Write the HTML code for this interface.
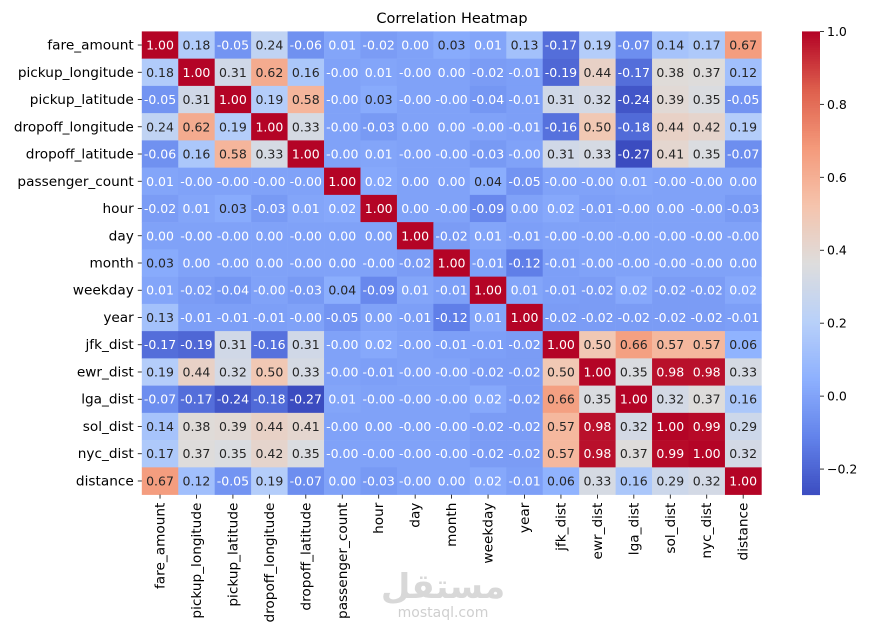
<!DOCTYPE html>
<html><head><meta charset="utf-8"><style>
html,body{margin:0;padding:0;background:#fff;}
svg{display:block;font-family:"DejaVu Sans","Liberation Sans",sans-serif;}
</style></head><body>
<svg id="chart" width="877" height="636" viewBox="0 0 877 636" xmlns="http://www.w3.org/2000/svg">
<text x="452" y="23" font-size="14.5" text-anchor="middle" fill="#000">Correlation Heatmap</text>
<g id="cells"></g>
<g id="ylab"></g>
<g id="xlab"></g>
<g id="cbar"></g>
<g fill="#d8d8d8" text-anchor="middle">
<text x="443" y="598" font-size="34" font-weight="bold" font-family="'Noto Sans CJK SC','DejaVu Sans',sans-serif">مستقل</text>
<text x="443" y="617" font-size="14" fill="#cfcfcf">mostaql.com</text>
</g>
</svg>
<script>
const labels = ["fare_amount","pickup_longitude","pickup_latitude","dropoff_longitude","dropoff_latitude","passenger_count","hour","day","month","weekday","year","jfk_dist","ewr_dist","lga_dist","sol_dist","nyc_dist","distance"];
const cellText = [
"1.00 0.18 -0.05 0.24 -0.06 0.01 -0.02 0.00 0.03 0.01 0.13 -0.17 0.19 -0.07 0.14 0.17 0.67",
"0.18 1.00 0.31 0.62 0.16 -0.00 0.01 -0.00 0.00 -0.02 -0.01 -0.19 0.44 -0.17 0.38 0.37 0.12",
"-0.05 0.31 1.00 0.19 0.58 -0.00 0.03 -0.00 -0.00 -0.04 -0.01 0.31 0.32 -0.24 0.39 0.35 -0.05",
"0.24 0.62 0.19 1.00 0.33 -0.00 -0.03 0.00 0.00 -0.00 -0.01 -0.16 0.50 -0.18 0.44 0.42 0.19",
"-0.06 0.16 0.58 0.33 1.00 -0.00 0.01 -0.00 -0.00 -0.03 -0.00 0.31 0.33 -0.27 0.41 0.35 -0.07",
"0.01 -0.00 -0.00 -0.00 -0.00 1.00 0.02 0.00 0.00 0.04 -0.05 -0.00 -0.00 0.01 -0.00 -0.00 0.00",
"-0.02 0.01 0.03 -0.03 0.01 0.02 1.00 0.00 -0.00 -0.09 0.00 0.02 -0.01 -0.00 0.00 -0.00 -0.03",
"0.00 -0.00 -0.00 0.00 -0.00 0.00 0.00 1.00 -0.02 0.01 -0.01 -0.00 -0.00 -0.00 -0.00 -0.00 -0.00",
"0.03 0.00 -0.00 0.00 -0.00 0.00 -0.00 -0.02 1.00 -0.01 -0.12 -0.01 -0.00 -0.00 -0.00 -0.00 0.00",
"0.01 -0.02 -0.04 -0.00 -0.03 0.04 -0.09 0.01 -0.01 1.00 0.01 -0.01 -0.02 0.02 -0.02 -0.02 0.02",
"0.13 -0.01 -0.01 -0.01 -0.00 -0.05 0.00 -0.01 -0.12 0.01 1.00 -0.02 -0.02 -0.02 -0.02 -0.02 -0.01",
"-0.17 -0.19 0.31 -0.16 0.31 -0.00 0.02 -0.00 -0.01 -0.01 -0.02 1.00 0.50 0.66 0.57 0.57 0.06",
"0.19 0.44 0.32 0.50 0.33 -0.00 -0.01 -0.00 -0.00 -0.02 -0.02 0.50 1.00 0.35 0.98 0.98 0.33",
"-0.07 -0.17 -0.24 -0.18 -0.27 0.01 -0.00 -0.00 -0.00 0.02 -0.02 0.66 0.35 1.00 0.32 0.37 0.16",
"0.14 0.38 0.39 0.44 0.41 -0.00 0.00 -0.00 -0.00 -0.02 -0.02 0.57 0.98 0.32 1.00 0.99 0.29",
"0.17 0.37 0.35 0.42 0.35 -0.00 -0.00 -0.00 -0.00 -0.02 -0.02 0.57 0.98 0.37 0.99 1.00 0.32",
"0.67 0.12 -0.05 0.19 -0.07 0.00 -0.03 -0.00 0.00 0.02 -0.01 0.06 0.33 0.16 0.29 0.32 1.00"
];
const cbarTicks = [1.0, 0.8, 0.6, 0.4, 0.2, 0.0, -0.2];

const NS = "http://www.w3.org/2000/svg";
const strs = cellText.map(r => r.split(" "));
const values = strs.map(r => r.map(parseFloat));
let vmin = Infinity, vmax = -Infinity;
values.forEach(r => r.forEach(v => { vmin = Math.min(vmin, v); vmax = Math.max(vmax, v); }));
const L = 141.8, R = 761.4, T = 31.4, B = 494.6;
const n = labels.length, cw = (R - L) / n, ch = (B - T) / n;
const xPos = i => L + i * cw, yPos = i => T + i * ch;

const stops = [[59,76,192],[98,130,234],[141,176,254],[184,208,249],[221,221,221],[245,196,173],[244,154,123],[222,96,77],[180,4,38]];
function cmap(t){ t=Math.max(0,Math.min(1,t)); const s=t*8, i=Math.min(7,Math.floor(s)), f=s-i;
  return stops[i].map((c,k)=>Math.round(c+(stops[i+1][k]-c)*f)); }
const norm = v => (v - vmin) / (vmax - vmin);
function lum(c){ const l=c.map(x=>{x/=255;return x<=0.03928?x/12.92:Math.pow((x+0.055)/1.055,2.4);}); return 0.2126*l[0]+0.7152*l[1]+0.0722*l[2]; }
function mk(tag, attrs, parent){ const e=document.createElementNS(NS,tag); for(const k in attrs) e.setAttribute(k,attrs[k]); parent.appendChild(e); return e; }

const gc = document.getElementById("cells");
values.forEach((row, r) => row.forEach((v, c) => {
  const col = cmap(norm(v));
  const rect = mk("rect",{x:xPos(c),y:yPos(r),width:cw+0.3,height:ch+0.3,fill:`rgb(${col})`},gc);
  
  
  const t = mk("text",{x:xPos(c)+cw/2,y:yPos(r)+ch/2+4.5,"font-size":"12.5","text-anchor":"middle",fill:lum(col)>0.408?"#262626":"#fff"},gc);
  
  
  t.textContent = strs[r][c];
}));

// calibrate tick-label font so "pickup_longitude" is ~116px wide as in the reference
const probe = mk("text",{x:0,y:-50,"font-size":"12.5"},document.getElementById("chart"));
probe.textContent = "pickup_longitude";
let fs = 12.5;
try { const w = probe.getComputedTextLength(); if (w > 0) fs = Math.max(11, Math.min(16, 12.5 * 116 / w)); } catch(e) {}
probe.remove();

const gy = document.getElementById("ylab"), gx = document.getElementById("xlab");
labels.forEach((lab, i) => {
  const ty = mk("text",{x:L-8,y:yPos(i)+ch/2+4.5,"font-size":fs,"text-anchor":"end",fill:"#000"},gy);
  
  
  ty.textContent = lab;
  mk("line",{x1:L-4,x2:L,y1:yPos(i)+ch/2,y2:yPos(i)+ch/2,stroke:"#000","stroke-width":0.8},gy);
  const cx = xPos(i)+cw/2;
  mk("line",{x1:cx,x2:cx,y1:B,y2:B+4,stroke:"#000","stroke-width":0.8},gx);
  const tx = mk("text",{x:0,y:0,"font-size":fs,"text-anchor":"end",fill:"#000",transform:`translate(${cx+4.5},${B+8}) rotate(-90)`},gx);
  
  
  tx.textContent = lab;
});

const gb = document.getElementById("cbar");
const CL = 802, CW = 18;
const cy = v => T + (vmax - v) / (vmax - vmin) * (B - T);
const steps = 200;
for (let k = 0; k < steps; k++) {
  const v0 = vmax - (vmax - vmin) * k / steps;
  const col = cmap(norm(v0));
  mk("rect",{x:CL,y:T+(B-T)*k/steps,width:CW,height:(B-T)/steps+0.5,fill:`rgb(${col})`},gb);
}
cbarTicks.forEach(v => {
  const y = cy(v);
  mk("line",{x1:CL+CW,x2:CL+CW+4,y1:y,y2:y,stroke:"#000","stroke-width":0.8},gb);
  const t = mk("text",{x:CL+CW+7,y:y+4.5,"font-size":"12.5",fill:"#000"},gb);
  
  
  t.textContent = v < 0 ? "\u2212" + Math.abs(v).toFixed(1) : v.toFixed(1);
});
</script>
</body></html>
